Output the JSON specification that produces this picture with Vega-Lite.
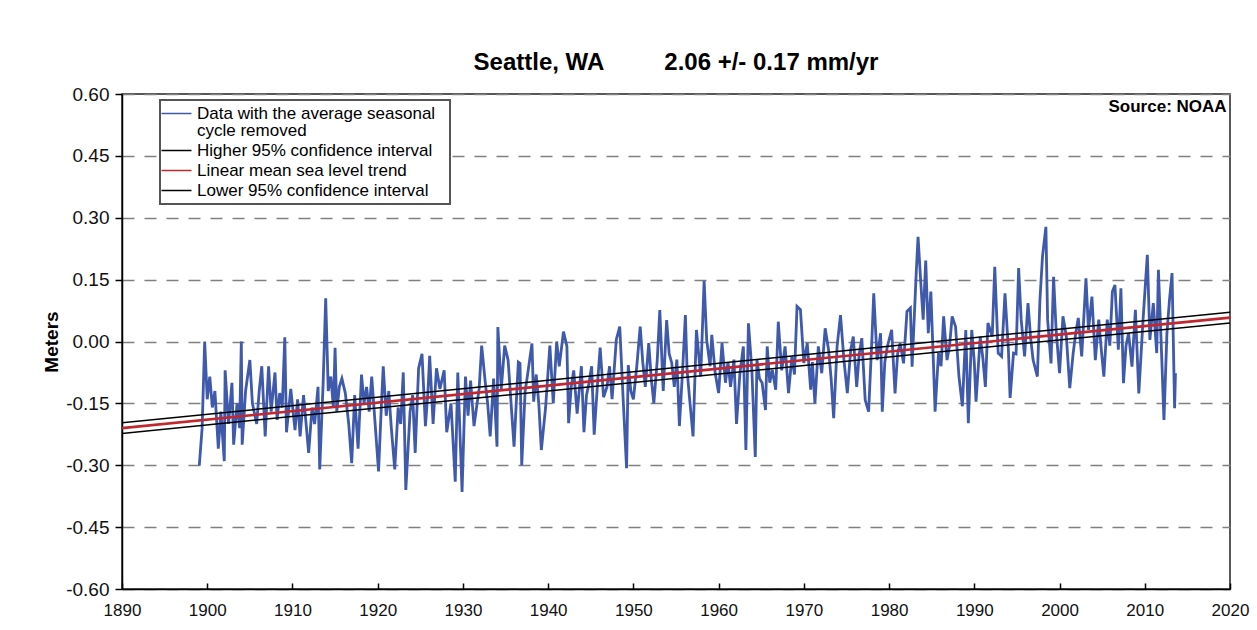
{
  "$schema": "https://vega.github.io/schema/vega-lite/v6.json",
  "autosize": "none",
  "width": 1108,
  "height": 495,
  "padding": {"left": 122, "top": 94, "right": 27, "bottom": 41},
  "background": "#ffffff",
  "title": {
    "text": "Seattle, WA\u00a0\u00a0\u00a0\u00a0\u00a0\u00a0\u00a0\u00a0\u00a02.06 +/- 0.17 mm/yr",
    "font": "Liberation Sans",
    "fontSize": 24,
    "fontWeight": "bold",
    "color": "#000000",
    "anchor": "middle",
    "offset": 10
  },
  "config": {
    "font": "Liberation Sans",
    "view": {"stroke": "#222222", "strokeWidth": 1.5},
    "legend": {
      "orient": "none",
      "legendX": 38,
      "legendY": 6,
      "strokeColor": "#555555",
      "strokeWidth": 2,
      "fillColor": "#ffffff",
      "padding": 5,
      "labelFont": "Liberation Sans",
      "labelFontSize": 17,
      "labelColor": "#000000",
      "labelLimit": 360,
      "labelOffset": 15,
      "symbolType": "M-1.6,0H2.4",
      "symbolSize": 225,
      "symbolStrokeWidth": 1.5,
      "rowPadding": 2,
      "title": null
    }
  },
  "datasets": {
    "obs": [
      {"t":1899.07,"v":-0.30},{"t":1899.4,"v":-0.21},{"t":1899.7,"v":0.00},{"t":1900.0,"v":-0.14},{"t":1900.3,"v":-0.085},{"t":1900.6,"v":-0.16},{"t":1900.9,"v":-0.12},{"t":1901.3,"v":-0.26},{"t":1901.6,"v":-0.17},{"t":1902.0,"v":-0.29},{"t":1902.1,"v":-0.07},{"t":1902.5,"v":-0.2},{"t":1902.9,"v":-0.10},{"t":1903.1,"v":-0.25},{"t":1903.5,"v":-0.15},{"t":1903.8,"v":-0.21},{"t":1904.0,"v":0.00},{"t":1904.1,"v":-0.25},{"t":1904.5,"v":-0.12},{"t":1905.0,"v":-0.045},{"t":1905.3,"v":-0.15},{"t":1905.8,"v":-0.20},{"t":1906.1,"v":-0.12},{"t":1906.4,"v":-0.06},{"t":1906.8,"v":-0.23},{"t":1907.2,"v":-0.06},{"t":1907.5,"v":-0.17},{"t":1907.95,"v":-0.075},{"t":1908.2,"v":-0.19},{"t":1908.5,"v":-0.125},{"t":1908.8,"v":-0.16},{"t":1909.1,"v":0.01},{"t":1909.3,"v":-0.22},{"t":1909.8,"v":-0.115},{"t":1910.3,"v":-0.215},{"t":1910.6,"v":-0.14},{"t":1910.9,"v":-0.23},{"t":1911.3,"v":-0.13},{"t":1911.9,"v":-0.27},{"t":1912.3,"v":-0.16},{"t":1912.6,"v":-0.2},{"t":1913.0,"v":-0.11},{"t":1913.2,"v":-0.31},{"t":1913.6,"v":-0.10},{"t":1913.9,"v":0.105},{"t":1914.2,"v":-0.12},{"t":1914.5,"v":-0.085},{"t":1914.8,"v":-0.16},{"t":1915.0,"v":-0.015},{"t":1915.2,"v":-0.17},{"t":1915.5,"v":-0.11},{"t":1915.8,"v":-0.09},{"t":1916.2,"v":-0.125},{"t":1916.6,"v":-0.2},{"t":1916.95,"v":-0.295},{"t":1917.3,"v":-0.13},{"t":1917.7,"v":-0.26},{"t":1918.1,"v":-0.08},{"t":1918.4,"v":-0.15},{"t":1918.7,"v":-0.11},{"t":1919.0,"v":-0.17},{"t":1919.3,"v":-0.085},{"t":1919.7,"v":-0.20},{"t":1920.1,"v":-0.315},{"t":1920.4,"v":-0.17},{"t":1920.65,"v":-0.06},{"t":1921.0,"v":-0.18},{"t":1921.3,"v":-0.12},{"t":1921.6,"v":-0.21},{"t":1922.0,"v":-0.31},{"t":1922.4,"v":-0.16},{"t":1922.7,"v":-0.2},{"t":1923.0,"v":-0.075},{"t":1923.3,"v":-0.36},{"t":1923.8,"v":-0.17},{"t":1924.1,"v":-0.13},{"t":1924.4,"v":-0.27},{"t":1924.8,"v":-0.065},{"t":1925.2,"v":-0.03},{"t":1925.6,"v":-0.205},{"t":1925.9,"v":-0.12},{"t":1926.1,"v":-0.035},{"t":1926.5,"v":-0.20},{"t":1926.9,"v":-0.065},{"t":1927.3,"v":-0.115},{"t":1927.8,"v":-0.07},{"t":1928.1,"v":-0.22},{"t":1928.6,"v":-0.15},{"t":1929.1,"v":-0.34},{"t":1929.4,"v":-0.075},{"t":1929.9,"v":-0.365},{"t":1930.3,"v":-0.085},{"t":1930.6,"v":-0.18},{"t":1930.9,"v":-0.095},{"t":1931.3,"v":-0.205},{"t":1931.9,"v":-0.115},{"t":1932.2,"v":-0.01},{"t":1932.6,"v":-0.095},{"t":1932.9,"v":-0.15},{"t":1933.2,"v":-0.23},{"t":1933.6,"v":-0.09},{"t":1934.0,"v":-0.255},{"t":1934.1,"v":0.035},{"t":1934.5,"v":-0.115},{"t":1934.9,"v":-0.01},{"t":1935.3,"v":-0.045},{"t":1935.7,"v":-0.165},{"t":1936.0,"v":-0.255},{"t":1936.5,"v":-0.05},{"t":1936.7,"v":-0.053},{"t":1936.9,"v":-0.30},{"t":1937.3,"v":-0.12},{"t":1937.5,"v":-0.093},{"t":1938.1,"v":-0.005},{"t":1938.3,"v":-0.146},{"t":1938.6,"v":-0.08},{"t":1938.9,"v":-0.15},{"t":1939.2,"v":-0.263},{"t":1939.7,"v":-0.16},{"t":1940.2,"v":-0.01},{"t":1940.6,"v":-0.15},{"t":1941.0,"v":0.00},{"t":1941.3,"v":-0.06},{"t":1941.8,"v":0.024},{"t":1942.2,"v":-0.012},{"t":1942.4,"v":-0.198},{"t":1942.7,"v":-0.11},{"t":1943.0,"v":-0.07},{"t":1943.4,"v":-0.175},{"t":1943.9,"v":-0.06},{"t":1944.2,"v":-0.22},{"t":1944.5,"v":-0.13},{"t":1944.8,"v":-0.10},{"t":1945.1,"v":-0.06},{"t":1945.4,"v":-0.226},{"t":1945.8,"v":-0.1},{"t":1946.1,"v":-0.015},{"t":1946.5,"v":-0.135},{"t":1946.9,"v":-0.11},{"t":1947.2,"v":-0.06},{"t":1947.5,"v":-0.14},{"t":1948.0,"v":0.005},{"t":1948.4,"v":0.036},{"t":1948.8,"v":-0.14},{"t":1949.2,"v":-0.307},{"t":1949.4,"v":-0.057},{"t":1949.7,"v":-0.12},{"t":1950.0,"v":-0.14},{"t":1950.4,"v":-0.06},{"t":1950.8,"v":0.036},{"t":1951.1,"v":-0.05},{"t":1951.4,"v":-0.11},{"t":1951.8,"v":-0.004},{"t":1952.1,"v":-0.09},{"t":1952.4,"v":-0.15},{"t":1952.8,"v":-0.045},{"t":1953.1,"v":0.076},{"t":1953.5,"v":-0.12},{"t":1953.9,"v":0.052},{"t":1954.2,"v":-0.03},{"t":1954.5,"v":-0.052},{"t":1954.8,"v":-0.11},{"t":1955.1,"v":-0.044},{"t":1955.4,"v":-0.205},{"t":1955.8,"v":-0.06},{"t":1956.1,"v":0.064},{"t":1956.3,"v":-0.069},{"t":1956.6,"v":-0.14},{"t":1957.0,"v":-0.23},{"t":1957.4,"v":0.028},{"t":1957.9,"v":-0.085},{"t":1958.3,"v":0.147},{"t":1958.6,"v":0.004},{"t":1959.0,"v":-0.06},{"t":1959.2,"v":0.016},{"t":1959.6,"v":-0.077},{"t":1960.0,"v":-0.125},{"t":1960.4,"v":-0.004},{"t":1960.8,"v":-0.10},{"t":1961.1,"v":-0.05},{"t":1961.4,"v":-0.11},{"t":1961.8,"v":-0.044},{"t":1962.1,"v":-0.20},{"t":1962.5,"v":-0.077},{"t":1962.9,"v":-0.012},{"t":1963.2,"v":-0.263},{"t":1963.5,"v":0.044},{"t":1963.9,"v":-0.069},{"t":1964.3,"v":-0.28},{"t":1964.5,"v":-0.044},{"t":1964.8,"v":-0.09},{"t":1965.1,"v":-0.10},{"t":1965.5,"v":-0.166},{"t":1965.7,"v":-0.012},{"t":1966.0,"v":-0.1},{"t":1966.3,"v":-0.069},{"t":1966.7,"v":-0.117},{"t":1967.0,"v":0.048},{"t":1967.4,"v":-0.07},{"t":1967.8,"v":-0.012},{"t":1968.2,"v":-0.125},{"t":1968.6,"v":-0.036},{"t":1968.9,"v":-0.08},{"t":1969.2,"v":0.085},{"t":1969.6,"v":0.077},{"t":1970.0,"v":-0.052},{"t":1970.4,"v":-0.004},{"t":1970.8,"v":-0.117},{"t":1971.0,"v":-0.05},{"t":1971.3,"v":-0.15},{"t":1971.7,"v":-0.012},{"t":1972.1,"v":-0.077},{"t":1972.5,"v":0.032},{"t":1972.9,"v":-0.02},{"t":1973.2,"v":-0.09},{"t":1973.5,"v":-0.186},{"t":1973.9,"v":-0.012},{"t":1974.3,"v":0.064},{"t":1974.7,"v":-0.044},{"t":1975.1,"v":-0.125},{"t":1975.5,"v":-0.02},{"t":1975.8,"v":0.012},{"t":1976.2,"v":-0.11},{"t":1976.5,"v":-0.03},{"t":1976.8,"v":0.008},{"t":1977.2,"v":-0.142},{"t":1977.6,"v":-0.17},{"t":1978.0,"v":0.012},{"t":1978.2,"v":0.117},{"t":1978.6,"v":-0.045},{"t":1979.0,"v":0.02},{"t":1979.2,"v":-0.17},{"t":1979.5,"v":-0.05},{"t":1979.8,"v":-0.012},{"t":1980.3,"v":0.028},{"t":1980.7,"v":-0.126},{"t":1981.0,"v":-0.03},{"t":1981.3,"v":-0.004},{"t":1981.7,"v":-0.053},{"t":1982.1,"v":0.073},{"t":1982.5,"v":0.081},{"t":1982.7,"v":-0.061},{"t":1983.2,"v":0.173},{"t":1983.4,"v":0.254},{"t":1983.7,"v":0.149},{"t":1984.0,"v":0.053},{"t":1984.3,"v":0.196},{"t":1984.6,"v":0.02},{"t":1984.9,"v":0.121},{"t":1985.2,"v":-0.05},{"t":1985.4,"v":-0.17},{"t":1985.8,"v":-0.028},{"t":1986.1,"v":-0.06},{"t":1986.4,"v":0.061},{"t":1986.8,"v":-0.045},{"t":1987.1,"v":-0.01},{"t":1987.4,"v":0.061},{"t":1987.8,"v":0.036},{"t":1988.2,"v":-0.085},{"t":1988.6,"v":-0.157},{"t":1989.0,"v":0.028},{"t":1989.3,"v":-0.198},{"t":1989.7,"v":0.028},{"t":1990.0,"v":-0.05},{"t":1990.2,"v":-0.146},{"t":1990.7,"v":0.012},{"t":1991.0,"v":-0.04},{"t":1991.3,"v":-0.11},{"t":1991.6,"v":0.045},{"t":1992.1,"v":0.012},{"t":1992.4,"v":0.181},{"t":1992.8,"v":-0.028},{"t":1993.2,"v":-0.036},{"t":1993.6,"v":0.117},{"t":1994.0,"v":-0.02},{"t":1994.2,"v":-0.137},{"t":1994.6,"v":-0.028},{"t":1994.9,"v":-0.03},{"t":1995.2,"v":0.178},{"t":1995.5,"v":0.053},{"t":1995.9,"v":-0.036},{"t":1996.3,"v":0.093},{"t":1996.6,"v":0.01},{"t":1996.9,"v":-0.045},{"t":1997.4,"v":-0.085},{"t":1997.7,"v":0.101},{"t":1998.0,"v":0.206},{"t":1998.4,"v":0.278},{"t":1998.6,"v":0.053},{"t":1999.0,"v":-0.053},{"t":1999.3,"v":0.157},{"t":1999.6,"v":0.028},{"t":2000.0,"v":-0.077},{"t":2000.4,"v":0.061},{"t":2000.8,"v":0.012},{"t":2001.2,"v":-0.113},{"t":2001.6,"v":-0.028},{"t":2001.9,"v":0.02},{"t":2002.2,"v":0.057},{"t":2002.6,"v":-0.036},{"t":2003.1,"v":0.153},{"t":2003.4,"v":0.028},{"t":2003.8,"v":0.109},{"t":2004.2,"v":-0.045},{"t":2004.6,"v":0.053},{"t":2004.9,"v":-0.02},{"t":2005.2,"v":-0.085},{"t":2005.6,"v":0.053},{"t":2005.9,"v":-0.01},{"t":2006.2,"v":0.121},{"t":2006.5,"v":0.137},{"t":2006.9,"v":-0.02},{"t":2007.2,"v":0.129},{"t":2007.5,"v":-0.101},{"t":2007.8,"v":-0.01},{"t":2008.1,"v":0.02},{"t":2008.5,"v":-0.061},{"t":2008.9,"v":0.077},{"t":2009.3,"v":-0.126},{"t":2009.8,"v":0.053},{"t":2010.3,"v":0.21},{"t":2010.6,"v":0.004},{"t":2011.0,"v":0.093},{"t":2011.4,"v":-0.028},{"t":2011.6,"v":0.174},{"t":2012.0,"v":-0.045},{"t":2012.25,"v":-0.19},{"t":2012.6,"v":0.02},{"t":2012.9,"v":0.101},{"t":2013.2,"v":0.166},{"t":2013.5,"v":-0.162},{"t":2013.6,"v":-0.077}
    ],
    "trend": [
      {"s":"Higher","t":1890,"v":-0.197},{"s":"Higher","t":2020,"v":0.071},
      {"s":"Linear","t":1890,"v":-0.21},{"s":"Linear","t":2020,"v":0.058},
      {"s":"Lower","t":1890,"v":-0.223},{"s":"Lower","t":2020,"v":0.045}
    ],
    "note": [{"t":2019.6,"v":0.589,"label":"Source: NOAA"}]
  },
  "layer": [
    {
      "data": {"name": "obs"},
      "mark": {"type": "line", "strokeWidth": 2.8, "clip": true},
      "encoding": {
        "x": {
          "field": "t", "type": "quantitative",
          "scale": {"domain": [1890, 2020], "nice": false, "zero": false},
          "axis": {
            "title": null,
            "values": [1890,1900,1910,1920,1930,1940,1950,1960,1970,1980,1990,2000,2010,2020],
            "format": "d",
            "labelFlush": false,
            "labelOverlap": false,
            "labelFont": "Liberation Sans",
            "labelFontSize": 17,
            "labelColor": "#111111",
            "labelPadding": 19,
            "tickSize": -6,
            "tickColor": "#000000",
            "tickWidth": 1.5,
            "domainColor": "#000000",
            "domainWidth": 1.5,
            "grid": false
          }
        },
        "y": {
          "field": "v", "type": "quantitative",
          "scale": {"domain": [-0.6, 0.6], "nice": false, "zero": false},
          "axis": {
            "title": "Meters",
            "titleFont": "Liberation Sans",
            "titleFontSize": 19,
            "titleFontWeight": "bold",
            "titleColor": "#000000",
            "titlePadding": 4,
            "values": [-0.6,-0.45,-0.3,-0.15,0,0.15,0.3,0.45,0.6],
            "format": ".2f",
            "labelExpr": "replace(datum.label, '\u2212', '-')",
            "labelFlush": false,
            "labelOverlap": false,
            "labelFont": "Liberation Sans",
            "labelFontSize": 19,
            "labelColor": "#111111",
            "labelPadding": 6,
            "tickSize": 7,
            "tickColor": "#000000",
            "tickWidth": 1.5,
            "domainColor": "#000000",
            "domainWidth": 1.5,
            "grid": true,
            "gridColor": "#808080",
            "gridDash": [12, 10],
            "gridWidth": 1.5
          }
        },
        "color": {
          "datum": "Data",
          "type": "nominal",
          "scale": {
            "domain": ["Data", "Higher", "Linear", "Lower"],
            "range": ["#3f59ab", "#000000", "#c1272d", "#000000"]
          },
          "legend": {
            "labelExpr": "datum.label == 'Data' ? ['Data with the average seasonal\u00a0\u00a0\u200b', 'cycle removed'] : datum.label == 'Higher' ? 'Higher 95% confidence interval' : datum.label == 'Linear' ? 'Linear mean sea level trend' : 'Lower 95% confidence interval'",
            "encode": {
              "labels": {"update": {"lineHeight": {"value": 17}}}
            }
          }
        }
      }
    },
    {
      "data": {"name": "trend"},
      "transform": [{"filter": "datum.s != 'Linear'"}],
      "mark": {"type": "line", "clip": true, "strokeWidth": 1.5},
      "encoding": {
        "x": {"field": "t", "type": "quantitative"},
        "y": {"field": "v", "type": "quantitative"},
        "color": {"field": "s", "type": "nominal"}
      }
    },
    {
      "data": {"name": "trend"},
      "transform": [{"filter": "datum.s == 'Linear'"}],
      "mark": {"type": "line", "clip": true, "strokeWidth": 2.6},
      "encoding": {
        "x": {"field": "t", "type": "quantitative"},
        "y": {"field": "v", "type": "quantitative"},
        "color": {"field": "s", "type": "nominal"}
      }
    },
    {
      "data": {"name": "note"},
      "mark": {"type": "text", "align": "right", "baseline": "top", "font": "Liberation Sans", "fontSize": 17, "fontWeight": "bold", "color": "#000000"},
      "encoding": {
        "x": {"field": "t", "type": "quantitative"},
        "y": {"field": "v", "type": "quantitative"},
        "text": {"field": "label"}
      }
    }
  ]
}
